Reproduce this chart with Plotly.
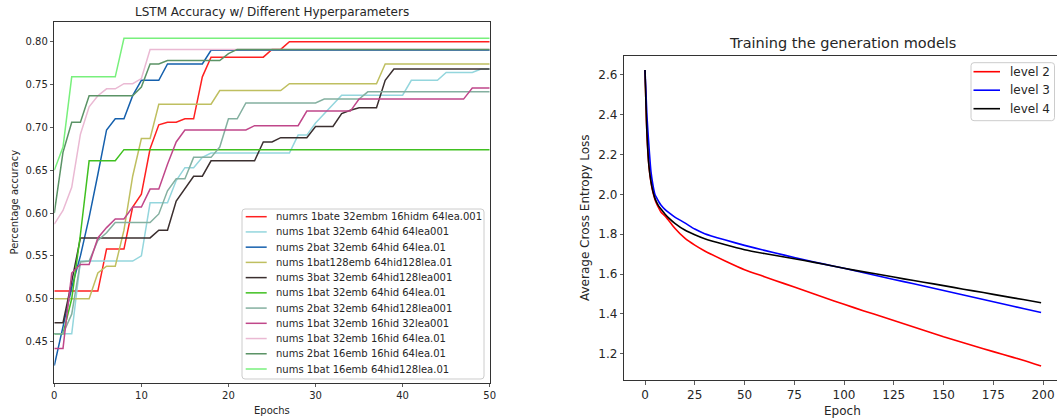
import plotly.graph_objects as go

# ---------------- Left chart data ----------------
epochs = list(range(51))

left_names = [
    "numrs 1bate 32embm 16hidm 64lea.001",
    "nums 1bat 32emb 64hid 64lea001",
    "nums 2bat 32emb 64hid 64lea.01",
    "nums 1bat128emb 64hid128lea.01",
    "nums 3bat 32emb 64hid128lea001",
    "nums 1bat 32emb 64hid 64lea.01",
    "nums 2bat 32emb 64hid128lea001",
    "nums 1bat 32emb 16hid 32lea001",
    "nums 1bat 32emb 16hid 64lea.01",
    "nums 2bat 16emb 16hid 64lea.01",
    "nums 1bat 16emb 64hid128lea.01",
]
left_colors = ["#ff2020", "#94d6dd", "#1560ad", "#bfbf60", "#3b2f2f", "#40c020",
               "#84b0a0", "#c0478a", "#eab9d3", "#5b9366", "#78f07c"]

acc_red = [0.509, 0.509, 0.509, 0.509, 0.509, 0.509, 0.558, 0.558, 0.558, 0.607,
           0.622, 0.675, 0.703, 0.706, 0.706, 0.710, 0.710, 0.759, 0.782, 0.782,
           0.782, 0.782, 0.782, 0.782, 0.782, 0.791, 0.791, 0.800, 0.800, 0.800,
           0.800, 0.800, 0.800, 0.800, 0.800, 0.800, 0.800, 0.800, 0.800, 0.800,
           0.800, 0.800, 0.800, 0.800, 0.800, 0.800, 0.800, 0.800, 0.800, 0.800,
           0.800]
acc_cyan = [0.459, 0.459, 0.459, 0.544, 0.544, 0.544, 0.544, 0.544, 0.544, 0.544,
            0.550, 0.612, 0.612, 0.612, 0.638, 0.653, 0.653, 0.665, 0.670, 0.670,
            0.670, 0.670, 0.670, 0.670, 0.670, 0.670, 0.670, 0.670, 0.691, 0.691,
            0.705, 0.716, 0.727, 0.7375, 0.7375, 0.7375, 0.7375, 0.7375, 0.7375, 0.7375,
            0.7375, 0.755, 0.755, 0.755, 0.755, 0.764, 0.764, 0.764, 0.764, 0.768,
            0.768]
acc_blue = [0.422, 0.468, 0.513, 0.550, 0.595, 0.645, 0.697, 0.710, 0.710, 0.737,
            0.755, 0.755, 0.755, 0.774, 0.774, 0.774, 0.774, 0.774, 0.790, 0.790,
            0.790, 0.790, 0.790, 0.790, 0.790, 0.790, 0.790, 0.790, 0.790, 0.790,
            0.790, 0.790, 0.790, 0.790, 0.790, 0.790, 0.790, 0.790, 0.790, 0.790,
            0.790, 0.790, 0.790, 0.790, 0.790, 0.790, 0.790, 0.790, 0.790, 0.790,
            0.790]
acc_olive = [0.500, 0.500, 0.500, 0.500, 0.500, 0.530, 0.538, 0.538, 0.580, 0.643,
             0.687, 0.687, 0.727, 0.727, 0.727, 0.727, 0.727, 0.727, 0.727, 0.743,
             0.743, 0.743, 0.743, 0.743, 0.743, 0.743, 0.743, 0.751, 0.751, 0.751,
             0.751, 0.751, 0.751, 0.751, 0.751, 0.751, 0.751, 0.751, 0.774, 0.774,
             0.774, 0.774, 0.774, 0.774, 0.774, 0.774, 0.774, 0.774, 0.774, 0.774,
             0.774]
acc_black = [0.472, 0.472, 0.520, 0.571, 0.571, 0.571, 0.571, 0.571, 0.571, 0.571,
             0.571, 0.571, 0.580, 0.580, 0.614, 0.629, 0.643, 0.643, 0.661, 0.661,
             0.661, 0.661, 0.661, 0.661, 0.683, 0.683, 0.688, 0.688, 0.688, 0.688,
             0.701, 0.701, 0.701, 0.716, 0.720, 0.723, 0.723, 0.723, 0.755, 0.768,
             0.768, 0.768, 0.768, 0.768, 0.768, 0.768, 0.768, 0.768, 0.768, 0.768,
             0.768]
acc_green = [0.459, 0.459, 0.500, 0.575, 0.661, 0.661, 0.661, 0.661, 0.674, 0.674,
             0.674, 0.674, 0.674, 0.674, 0.674, 0.674, 0.674, 0.674, 0.674, 0.674,
             0.674, 0.674, 0.674, 0.674, 0.674, 0.674, 0.674, 0.674, 0.674, 0.674,
             0.674, 0.674, 0.674, 0.674, 0.674, 0.674, 0.674, 0.674, 0.674, 0.674,
             0.674, 0.674, 0.674, 0.674, 0.674, 0.674, 0.674, 0.674, 0.674, 0.674,
             0.674]
acc_teal = [0.459, 0.459, 0.482, 0.543, 0.544, 0.568, 0.577, 0.589, 0.589, 0.589,
            0.589, 0.589, 0.599, 0.626, 0.640, 0.640, 0.665, 0.665, 0.665, 0.677,
            0.710, 0.710, 0.7285, 0.7285, 0.7285, 0.7285, 0.7285, 0.7285, 0.7285, 0.7285,
            0.7285, 0.733, 0.733, 0.733, 0.733, 0.733, 0.7415, 0.7415, 0.7415, 0.7415,
            0.7415, 0.7415, 0.7415, 0.7415, 0.7415, 0.7415, 0.7415, 0.7415, 0.7415, 0.7415,
            0.7415]
acc_magenta = [0.442, 0.442, 0.530, 0.540, 0.540, 0.571, 0.583, 0.593, 0.593, 0.607,
               0.607, 0.628, 0.628, 0.657, 0.683, 0.697, 0.697, 0.697, 0.697, 0.697,
               0.697, 0.697, 0.697, 0.702, 0.702, 0.702, 0.702, 0.702, 0.702, 0.719,
               0.719, 0.719, 0.719, 0.719, 0.719, 0.733, 0.733, 0.733, 0.733, 0.733,
               0.733, 0.733, 0.733, 0.733, 0.733, 0.733, 0.733, 0.733, 0.746, 0.746,
               0.746]
acc_pink = [0.587, 0.603, 0.630, 0.692, 0.724, 0.737, 0.745, 0.745, 0.751, 0.751,
            0.757, 0.791, 0.791, 0.791, 0.791, 0.791, 0.791, 0.791, 0.791, 0.791,
            0.791, 0.791, 0.791, 0.791, 0.791, 0.791, 0.791, 0.791, 0.791, 0.791,
            0.791, 0.791, 0.791, 0.791, 0.791, 0.791, 0.791, 0.791, 0.791, 0.791,
            0.791, 0.791, 0.791, 0.791, 0.791, 0.791, 0.791, 0.791, 0.791, 0.791,
            0.791]
acc_darkgreen = [0.600, 0.671, 0.706, 0.706, 0.737, 0.737, 0.737, 0.737, 0.737, 0.737,
                 0.747, 0.774, 0.774, 0.778, 0.778, 0.778, 0.778, 0.778, 0.778, 0.778,
                 0.786, 0.791, 0.791, 0.791, 0.791, 0.791, 0.791, 0.791, 0.791, 0.791,
                 0.791, 0.791, 0.791, 0.791, 0.791, 0.791, 0.791, 0.791, 0.791, 0.791,
                 0.791, 0.791, 0.791, 0.791, 0.791, 0.791, 0.791, 0.791, 0.791, 0.791,
                 0.791]
acc_lightgreen = [0.650, 0.677, 0.759, 0.759, 0.759, 0.759, 0.759, 0.759, 0.804, 0.804,
                  0.804, 0.804, 0.804, 0.804, 0.804, 0.804, 0.804, 0.804, 0.804, 0.804,
                  0.804, 0.804, 0.804, 0.804, 0.804, 0.804, 0.804, 0.804, 0.804, 0.804,
                  0.804, 0.804, 0.804, 0.804, 0.804, 0.804, 0.804, 0.804, 0.804, 0.804,
                  0.804, 0.804, 0.804, 0.804, 0.804, 0.804, 0.804, 0.804, 0.804, 0.804,
                  0.804]

left_series = [acc_red, acc_cyan, acc_blue, acc_olive, acc_black, acc_green,
               acc_teal, acc_magenta, acc_pink, acc_darkgreen, acc_lightgreen]

left_xticks = [0, 10, 20, 30, 40, 50]
left_yticks = [0.45, 0.50, 0.55, 0.60, 0.65, 0.70, 0.75, 0.80]

# ---------------- Right chart data ----------------
loss_epochs = [0, 1, 2, 3, 4, 5, 6, 7, 8, 10, 12, 15, 20, 25, 30, 40, 50, 60, 70, 80,
               90, 100, 110, 120, 130, 140, 150, 160, 170, 180, 190, 199]
loss_level2 = [2.625, 2.30, 2.14, 2.06, 2.01, 1.975, 1.95, 1.93, 1.912, 1.892, 1.868, 1.830,
               1.780, 1.745, 1.716, 1.667, 1.622, 1.587, 1.552, 1.517, 1.482, 1.448,
               1.415, 1.383, 1.350, 1.318, 1.285, 1.255, 1.225, 1.196, 1.167, 1.138]
loss_level3 = [2.625, 2.39, 2.24, 2.114, 2.047, 2.00, 1.98, 1.962, 1.947, 1.925, 1.908, 1.886,
               1.857, 1.826, 1.803, 1.772, 1.744, 1.719, 1.695, 1.672, 1.650, 1.629,
               1.607, 1.584, 1.562, 1.540, 1.517, 1.495, 1.472, 1.450, 1.427, 1.407]
loss_level4 = [2.625, 2.30, 2.14, 2.064, 2.014, 1.98, 1.958, 1.940, 1.927, 1.902, 1.881, 1.855,
               1.821, 1.797, 1.777, 1.748, 1.722, 1.703, 1.686, 1.668, 1.649, 1.629,
               1.611, 1.594, 1.576, 1.559, 1.542, 1.524, 1.507, 1.489, 1.472, 1.456]
right_names = ["level 2", "level 3", "level 4"]
right_colors = ["#ff0000", "#0000ff", "#000000"]
right_series = [loss_level2, loss_level3, loss_level4]

right_xticks = [0, 25, 50, 75, 100, 125, 150, 175, 200]
right_yticks = [1.2, 1.4, 1.6, 1.8, 2.0, 2.2, 2.4, 2.6]

# ---------------- Figure ----------------
W, H = 1057, 419
FONT = "DejaVu Sans"
TXT = "#262626"


def px(x):
    return x / W


def py(y):
    return 1 - y / H


fig = go.Figure()
for name, col, ys in zip(left_names, left_colors, left_series):
    fig.add_trace(go.Scatter(x=epochs, y=ys, mode="lines", name=name,
                             line=dict(color=col, width=1.5),
                             xaxis="x", yaxis="y", showlegend=False))
for name, col, ys in zip(right_names, right_colors, right_series):
    fig.add_trace(go.Scatter(x=loss_epochs, y=ys, mode="lines", name=name,
                             line=dict(color=col, width=1.6, shape="spline", smoothing=0.6),
                             xaxis="x2", yaxis="y2", showlegend=False))

axis_common = dict(showgrid=False, zeroline=False, showline=True, linecolor="#333333",
                   linewidth=1, ticks="outside", ticklen=3.5, tickwidth=0.8,
                   tickcolor="#333333", automargin=False)

shapes = []
annotations = []


def rounded_box(x0, y0, x1, y1, r=3):
    # pixel coordinates -> paper path with rounded corners
    def P(x, y):
        return f"{px(x):.5f},{py(y):.5f}"
    d = (f"M {P(x0 + r, y0)} L {P(x1 - r, y0)} Q {P(x1, y0)} {P(x1, y0 + r)} "
         f"L {P(x1, y1 - r)} Q {P(x1, y1)} {P(x1 - r, y1)} "
         f"L {P(x0 + r, y1)} Q {P(x0, y1)} {P(x0, y1 - r)} "
         f"L {P(x0, y0 + r)} Q {P(x0, y0)} {P(x0 + r, y0)} Z")
    return dict(type="path", path=d, xref="paper", yref="paper",
                fillcolor="rgba(255,255,255,0.85)", line=dict(color="#cccccc", width=1),
                layer="above")


def add_legend(names, colors, box, first_y, step, line_x0, line_x1, text_x, size, lw):
    shapes.append(rounded_box(*box))
    for i, (n, c) in enumerate(zip(names, colors)):
        yy = first_y + i * step
        shapes.append(dict(type="line", xref="paper", yref="paper",
                           x0=px(line_x0), x1=px(line_x1), y0=py(yy), y1=py(yy),
                           line=dict(color=c, width=lw), layer="above"))
        annotations.append(dict(text=n, x=px(text_x), y=py(yy), xref="paper", yref="paper",
                                xanchor="left", yanchor="middle", showarrow=False,
                                font=dict(size=size, family=FONT, color=TXT)))


# legends (layout positions in pixels)
add_legend(left_names, left_colors, (242, 209, 484, 379), 216.7, 15.23,
           245.7, 266.7, 273.5, 10, 1.5)
add_legend(right_names, right_colors, (971, 62.7, 1054.5, 120.7), 71.7, 18.5,
           973.5, 1000, 1007.5, 12, 1.6)


def label(text, x, y, size, angle=0):
    annotations.append(dict(text=text, x=px(x), y=py(y), xref="paper", yref="paper",
                            xanchor="center", yanchor="middle", showarrow=False,
                            textangle=angle, font=dict(size=size, family=FONT, color=TXT)))


label("LSTM Accuracy w/ Different Hyperparameters", 272, 11.7, 12)
label("Epochs", 272, 410, 10)
label("Percentage accuracy", 14, 202.5, 10, -90)
label("Training the generation models", 842, 42.7, 14.5)
label("Epoch", 842, 410.7, 12)
label("Average Cross Entropy Loss", 585, 218, 12, -90)

fig.update_layout(
    width=W, height=H,
    margin=dict(l=0, r=0, t=0, b=0),
    paper_bgcolor="white", plot_bgcolor="white",
    font=dict(family=FONT, color=TXT),
    showlegend=False,
    xaxis=dict(domain=[px(54.3), px(489.7)], range=[0, 50], tickvals=left_xticks,
               tickfont=dict(size=10), mirror=True, anchor="y", **axis_common),
    yaxis=dict(domain=[py(382.7), py(22)], range=[0.402, 0.823],
               tickvals=left_yticks, tickformat=".2f", tickfont=dict(size=10),
               mirror=True, anchor="x", **axis_common),
    xaxis2=dict(domain=[px(624.3), 1.0], range=[-10.4, 207.0], tickvals=right_xticks,
                tickfont=dict(size=12), mirror=True, anchor="y2", **axis_common),
    yaxis2=dict(domain=[py(380), py(56)], range=[1.068, 2.695],
                tickvals=right_yticks, tickformat=".1f", tickfont=dict(size=12),
                mirror=False, anchor="x2", **axis_common),
    shapes=shapes,
    annotations=annotations,
)

fig.write_html("out.html",
               config={"displayModeBar": False, "staticPlot": True},
               post_script="document.body.style.margin='0px';"
                           "document.body.style.overflow='hidden';")
